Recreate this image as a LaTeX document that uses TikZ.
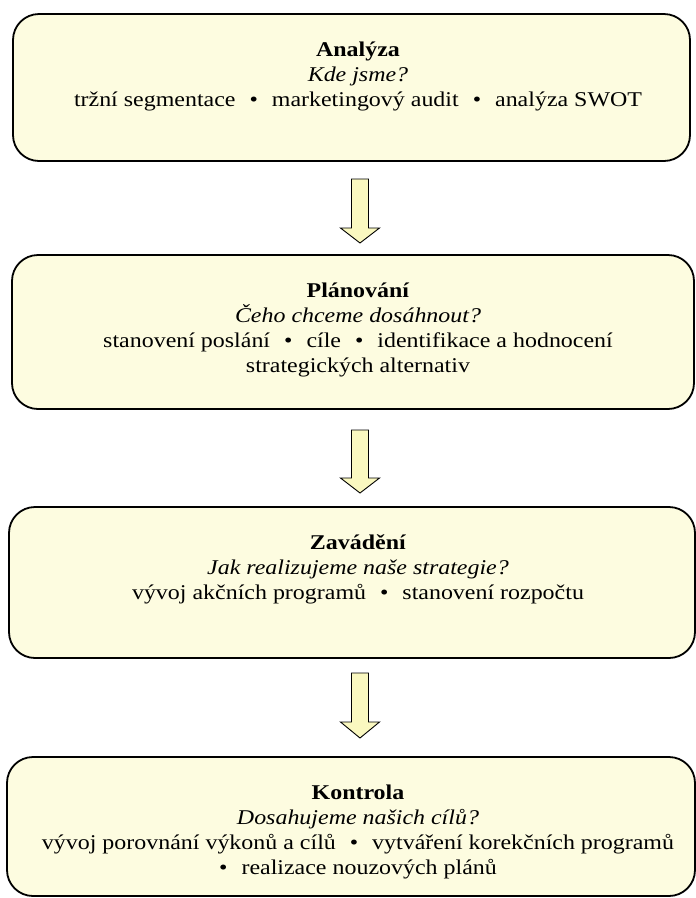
\documentclass[tikz,border=0pt]{standalone}
\usepackage{fontspec}
\setmainfont{Liberation Serif}[FakeStretch=1.14]
\definecolor{boxfill}{RGB}{253,252,224}
\definecolor{arrfill}{RGB}{250,248,192}
\tikzset{
  stagebox/.style={draw=black, line width=1.8pt, fill=boxfill, rounded corners=26pt, inner sep=0pt},
  stagetext/.style={anchor=north, align=center, inner sep=0pt, font=\fontsize{21}{25}\selectfont},
  blockarrow/.style={draw=black, line width=0.9pt, fill=arrfill, line join=miter},
}
\newcommand\blt{\hspace{14pt}•\hspace{14pt}}
\newcommand\firstln{\rule{0pt}{18pt}}
\newcommand\downarrowshape[3]{% top, head start, tip (y in px), centre x = 360
  \draw[blockarrow] (351.5,#1) -- (368.5,#1) -- (368.5,#2) -- (379.5,#2) -- (360,#3) -- (340.5,#2) -- (351.5,#2) -- cycle;}
\begin{document}
\begin{tikzpicture}[x=1pt,y=-1pt]
\useasboundingbox (0,0) rectangle (696,898);

\node[stagebox, minimum width=677pt, minimum height=147pt] (b1) at (351.5,87.5) {};
\node[stagebox, minimum width=682pt, minimum height=154pt] (b2) at (353,332) {};
\node[stagebox, minimum width=686pt, minimum height=151pt] (b3) at (352,582.5) {};
\node[stagebox, minimum width=688pt, minimum height=139pt] (b4) at (351,826.5) {};

\node[stagetext] (t1) at (358,38) {\firstln\textbf{Analýza}\\\textit{Kde jsme?}\\tržní segmentace\blt marketingový audit\blt analýza SWOT};
\node[stagetext] (t2) at (358,279) {\firstln\textbf{Plánování}\\\textit{Čeho chceme dosáhnout?}\\stanovení poslání\blt cíle\blt identifikace a hodnocení\\strategických alternativ};
\node[stagetext] (t3) at (358,531) {\firstln\textbf{Zavádění}\\\textit{Jak realizujeme naše strategie?}\\vývoj akčních programů\blt stanovení rozpočtu};
\node[stagetext] (t4) at (358,781) {\firstln\textbf{Kontrola}\\\textit{Dosahujeme našich cílů?}\\vývoj porovnání výkonů a cílů\blt vytváření korekčních programů\\•\hspace{14pt}realizace nouzových plánů};

\downarrowshape{179}{228}{243}
\downarrowshape{430}{478}{493}
\downarrowshape{673}{722}{738}
\end{tikzpicture}
\end{document}
